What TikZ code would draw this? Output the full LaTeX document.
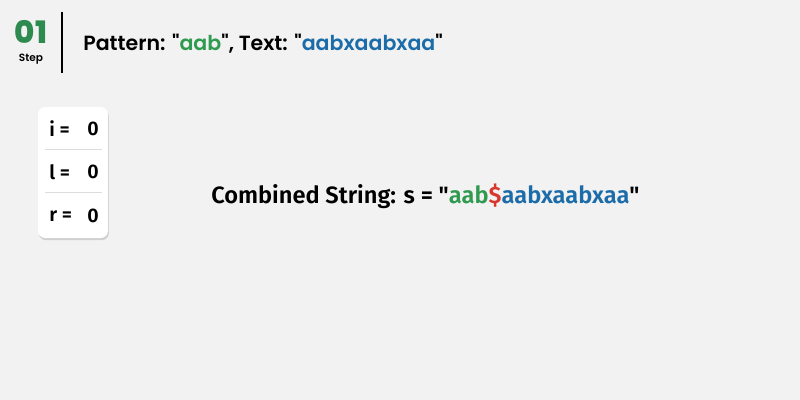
\documentclass[tikz,border=0pt]{standalone}
\usepackage{fontspec}
\newfontfamily\popfont{Poppins SemiBold}
\newfontfamily\popbold{Poppins ExtraBold}
\newfontfamily\firafont{Fira Sans SemiBold}
\usetikzlibrary{shadows}
\definecolor{bgcol}{HTML}{F2F2F2}
\definecolor{stepgreen}{HTML}{2E8B4F}
\definecolor{patgreen}{HTML}{2F9A50}
\definecolor{txtblue}{HTML}{1B6CA8}
\definecolor{dollred}{HTML}{D9362E}
\definecolor{sepgray}{HTML}{DDDDDD}
\tikzset{head/.style={font=\popfont\fontsize{14.6}{14.6}\selectfont, anchor=west, inner sep=0pt}}
\tikzset{var/.style={font=\firafont\fontsize{14}{14}\selectfont, anchor=west, inner sep=0pt}}
\tikzset{varbox/.style={fill=white, rounded corners=5pt, drop shadow={shadow xshift=0.6pt, shadow yshift=-1.5pt, opacity=0.3}}}

\begin{document}
\begin{tikzpicture}[x=0.025cm, y=-0.025cm]
        \fill[bgcol] (0,0) rectangle (800,400);
        \useasboundingbox (0,0) rectangle (800,400);
        % step marker
        \node[font=\popbold\fontsize{22}{22}\selectfont, text=stepgreen, inner sep=0pt] (num) at (31,32) {01};
        \node[font=\popfont\fontsize{7.5}{7.5}\selectfont, inner sep=0pt] (stp) at (31,59) {Step};
        \draw[line width=1.4pt] (62,12) -- (62,73);
        \node[head] (title) at (83,44) {Pattern: "\textcolor{patgreen}{aab}", Text: "\textcolor{txtblue}{aabxaabxaa}"};
        % variables
        \fill[varbox] (38,107) rectangle (108,238);
        \draw[sepgray, line width=0.6pt] (45,149) -- (102,149);
        \draw[sepgray, line width=0.6pt] (45,192) -- (102,192);
        \node[var] (i) at (49,129) {i =};
        \node[var] (l) at (49,172) {l =};
        \node[var] (r) at (49,216) {r =};
        \node[var] (iv) at (87,129) {0};
        \node[var] (lv) at (87,172) {0};
        \node[var] (rv) at (87,216) {0};
        % combined string
        \node[font=\firafont\fontsize{16.8}{16.8}\selectfont, anchor=west, inner sep=0pt] (comb) at (211,196)
          {Combined String: s = "\textcolor{patgreen}{aab}\textcolor{dollred}{\$}\textcolor{txtblue}{aabxaabxaa}"};
\end{tikzpicture}
\end{document}
